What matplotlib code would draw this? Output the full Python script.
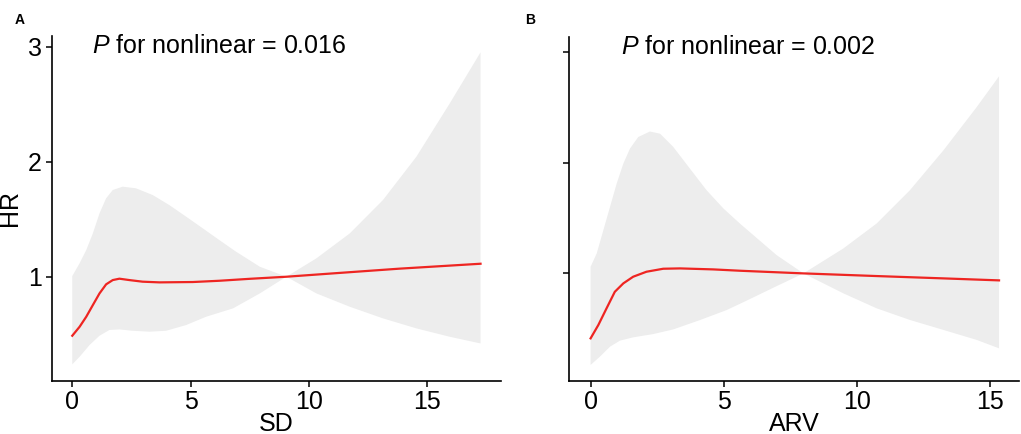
import numpy as np
import matplotlib.pyplot as plt

plt.rcParams['font.family'] = ['Liberation Sans', 'DejaVu Sans']
plt.rcParams['mathtext.fontset'] = 'custom'
plt.rcParams['mathtext.it'] = 'Liberation Sans:italic'
plt.rcParams['mathtext.rm'] = 'Liberation Sans'

# Panel A: SD
sd_x = [0, 0.31, 0.59, 0.87, 1.15, 1.43, 1.71, 1.99, 2.41, 2.97, 3.68, 5.09, 6.21, 7.5, 9.04,
        11.0, 13.8, 17.24]
sd_hr = [0.487, 0.565, 0.652, 0.754, 0.855, 0.934, 0.971, 0.983, 0.971, 0.957, 0.951, 0.954,
         0.965, 0.982, 1.0, 1.029, 1.07, 1.113]
sd_up_x = [0, 0.31, 0.59, 0.87, 1.15, 1.43, 1.71, 2.13, 2.69, 3.40, 4.10, 4.81, 5.51, 6.21,
           6.9, 7.92, 9.04, 10.31, 11.72, 13.12, 14.53, 15.94, 17.24]
sd_upper = [1.006, 1.117, 1.232, 1.377, 1.551, 1.682, 1.754, 1.783, 1.769, 1.71, 1.623, 1.522,
            1.421, 1.319, 1.22, 1.087, 1.0, 1.16, 1.377, 1.667, 2.043, 2.507, 2.951]
sd_lo_x = [0, 0.31, 0.73, 1.15, 1.57, 1.99, 2.55, 3.26, 3.96, 4.81, 5.65, 6.79, 7.92, 9.04,
           10.31, 11.72, 13.12, 14.53, 15.94, 17.24]
sd_lower = [0.238, 0.304, 0.406, 0.487, 0.537, 0.542, 0.530, 0.522, 0.530, 0.58, 0.652, 0.725,
            0.855, 1.0, 0.855, 0.739, 0.638, 0.551, 0.478, 0.42]

# Panel B: ARV
arv_x = [0, 0.29, 0.60, 0.91, 1.23, 1.60, 2.10, 2.73, 3.36, 4.61, 5.61, 8.0, 10.75, 13.26, 15.35]
arv_hr = [0.414, 0.534, 0.685, 0.834, 0.91, 0.97, 1.015, 1.042, 1.045, 1.036, 1.024, 1.0, 0.976,
          0.955, 0.937]
arv_up_x = [0, 0.23, 0.48, 0.73, 0.98, 1.23, 1.48, 1.79, 2.23, 2.61, 3.11, 3.73, 4.36, 4.99,
            5.61, 6.99, 8.0, 9.50, 10.75, 12.0, 13.26, 14.51, 15.35]
arv_upper = [1.06, 1.18, 1.39, 1.60, 1.81, 1.99, 2.126, 2.23, 2.28, 2.26, 2.14, 1.946, 1.75,
             1.586, 1.45, 1.165, 1.0, 1.225, 1.45, 1.75, 2.11, 2.50, 2.778]
arv_lo_x = [0, 0.35, 0.73, 1.10, 1.60, 2.36, 3.11, 4.11, 5.11, 5.74, 6.99, 8.0, 9.50, 10.75,
            12.0, 13.26, 14.51, 15.35]
arv_lower = [0.174, 0.249, 0.339, 0.393, 0.423, 0.453, 0.495, 0.579, 0.669, 0.74, 0.885, 1.0,
             0.82, 0.685, 0.58, 0.49, 0.40, 0.324]

y_ticks = [1, 2, 3]
x_ticks = [0, 5, 10, 15]

fig = plt.figure(figsize=(10.21, 4.34), dpi=100)
ax_a = fig.add_axes([0.0506, 0.1228, 0.440, 0.795])
ax_b = fig.add_axes([0.5576, 0.1228, 0.4407, 0.7926])

panels = [
    (ax_a, sd_x, sd_hr, sd_up_x, sd_upper, sd_lo_x, sd_lower, 'SD', '0.016',
     (-0.87, 18.1), (0.096, 3.096), 0.09),
    (ax_b, arv_x, arv_hr, arv_up_x, arv_upper, arv_lo_x, arv_lower, 'ARV', '0.002',
     (-0.80, 16.11), (0.032, 3.135), 0.115),
]

for ax, x, hr, ux, up, lx, lo, xlabel, pval, xlim, ylim, tx in panels:
    # confidence band as one polygon: upper edge, then lower edge backwards
    ax.fill(ux + lx[::-1], up + lo[::-1], color='#ededed', lw=0)
    ax.plot(x, hr, color='#ee2522', lw=1.6)
    ax.set_xlim(*xlim)
    ax.set_ylim(*ylim)
    ax.set_xticks(x_ticks)
    ax.set_yticks(y_ticks)
    for side in ['top', 'right']:
        ax.spines[side].set_visible(False)
    for side in ['left', 'bottom']:
        ax.spines[side].set_linewidth(1.2)
    ax.tick_params(direction='out', length=4, width=1.1, labelsize=18, pad=3)
    ax.set_xlabel(xlabel, fontsize=18, labelpad=-2)
    ax.text(tx, 0.949, r'$P$ for nonlinear = ' + pval,
            transform=ax.transAxes, fontsize=18, va='baseline', ha='left')

ax_a.set_ylabel('HR', fontsize=18, labelpad=4)
ax_b.tick_params(axis='y', labelleft=False)

fig.text(0.0147, 0.97, 'A', fontsize=10, fontweight='bold', va='top')
fig.text(0.5147, 0.97, 'B', fontsize=10, fontweight='bold', va='top')

fig.savefig('out.png', dpi=100)
